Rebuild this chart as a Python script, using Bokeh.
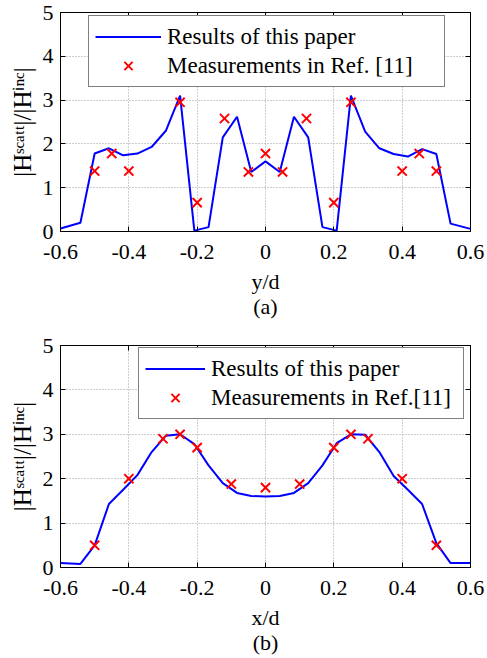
from bokeh.plotting import figure
from bokeh.models import Range1d, FixedTicker, LinearAxis
from bokeh.layouts import column
from bokeh.embed import file_html
from bokeh.resources import INLINE

# ---------------- data ----------------
x_line = [-0.6, -0.5417, -0.5, -0.4583, -0.4167, -0.375, -0.3333, -0.2917, -0.25, -0.2083,
          -0.1667, -0.125, -0.0833, -0.0417, 0.0, 0.0417, 0.0833, 0.125, 0.1667, 0.2083,
          0.25, 0.2917, 0.3333, 0.375, 0.4167, 0.4583, 0.5, 0.5417, 0.6]
y_line_a = [0.07, 0.2, 1.78, 1.9, 1.74, 1.78, 1.93, 2.3, 3.1, 0.02,
            0.1, 2.15, 2.62, 1.36, 1.6, 1.36, 2.62, 2.15, 0.1, 0.02,
            3.1, 2.28, 1.9, 1.77, 1.71, 1.88, 1.77, 0.18, 0.06]
x_meas_a = [-0.5, -0.45, -0.4, -0.25, -0.2, -0.12, -0.05, 0.0, 0.05, 0.12, 0.2, 0.25, 0.4, 0.45, 0.5]
y_meas_a = [1.38, 1.78, 1.38, 2.95, 0.66, 2.58, 1.36, 1.78, 1.36, 2.58, 0.66, 2.95, 1.38, 1.78, 1.38]

y_line_b = [0.1, 0.08, 0.5, 1.43, 1.75, 2.08, 2.6, 2.97, 3.0, 2.78,
            2.3, 1.9, 1.68, 1.61, 1.6, 1.61, 1.68, 1.9, 2.3, 2.8,
            3.0, 2.99, 2.6, 2.06, 1.75, 1.43, 0.55, 0.1, 0.1]
x_meas_b = [-0.5, -0.4, -0.3, -0.25, -0.2, -0.1, 0.0, 0.1, 0.2, 0.25, 0.3, 0.4, 0.5]
y_meas_b = [0.5, 2.0, 2.9, 3.0, 2.7, 1.88, 1.8, 1.88, 2.7, 3.0, 2.9, 2.0, 0.5]

x_ticks = [-0.6, -0.4, -0.2, 0.0, 0.2, 0.4, 0.6]
x_tick_labels = ["-0.6", "-0.4", "-0.2", "0", "0.2", "0.4", "0.6"]
y_ticks = [0, 1, 2, 3, 4, 5]

legend_line = "Results of this paper"
legend_meas_a = "Measurements in Ref. [11]"
legend_meas_b = "Measurements in Ref.[11]"
y_label = "|H\u02e2\u1d9c\u1d43\u1d57\u1d57|/|H\u2071\u207f\u1d9c|"

FONT = "Liberation Serif"


def make_plot(height, top, bottom, xlabel, label_standoff, leg_meas, leg_loc, glyph_w,
              label_w, yl, xm, ymm):
    p = figure(width=487, height=height, output_backend="svg", toolbar_location=None,
               x_range=Range1d(-0.6, 0.6), y_range=Range1d(0, 5),
               min_border_left=60, min_border_right=17, min_border_top=top,
               min_border_bottom=bottom, background_fill_color="white",
               border_fill_color="white")
    p.outline_line_color = "black"
    p.outline_line_width = 1

    for ax in (p.xaxis[0], p.yaxis[0]):
        ax.major_tick_in = 5
        ax.major_tick_out = 0
        ax.minor_tick_line_color = None
        ax.axis_line_color = "black"
        ax.major_tick_line_color = "black"
        ax.major_label_text_font = FONT
        ax.major_label_text_font_size = "22px"
        ax.major_label_text_color = "black"
        ax.axis_label_text_font = FONT
        ax.axis_label_text_font_style = "normal"
        ax.axis_label_text_color = "black"
    p.xaxis.ticker = FixedTicker(ticks=x_ticks)
    p.xaxis.major_label_overrides = {t: l for t, l in zip(x_ticks, x_tick_labels)}
    p.xaxis.major_label_standoff = 13
    p.xaxis.axis_label = xlabel
    p.xaxis.axis_label_text_font_size = "22px"
    p.xaxis.axis_label_text_line_height = 1.03
    p.xaxis.axis_label_standoff = label_standoff

    p.yaxis.ticker = FixedTicker(ticks=y_ticks)
    p.yaxis.major_label_standoff = 7
    p.yaxis.axis_label = y_label
    p.yaxis.axis_label_text_font_size = "25px"
    p.yaxis.axis_label_standoff = 4

    # box ticks on top and right (no labels)
    top_ax = LinearAxis(ticker=FixedTicker(ticks=x_ticks), major_label_text_color=None,
                        major_label_text_font_size="2px",
                        major_tick_in=5, major_tick_out=0, minor_tick_line_color=None,
                        major_label_standoff=0, axis_line_color="black")
    right_ax = LinearAxis(ticker=FixedTicker(ticks=y_ticks), major_label_text_color=None,
                          major_label_text_font_size="2px",
                          major_tick_in=5, major_tick_out=0, minor_tick_line_color=None,
                          major_label_standoff=0, axis_line_color="black")
    p.add_layout(top_ax, "above")
    p.add_layout(right_ax, "right")

    p.xgrid.ticker = FixedTicker(ticks=x_ticks)
    p.ygrid.ticker = FixedTicker(ticks=y_ticks)
    for g in (p.xgrid[0], p.ygrid[0]):
        g.grid_line_color = "#9a9a9a"
        g.grid_line_dash = "1 2"
        g.grid_line_width = 1

    p.line(x_line, yl, line_color="#0000ff", line_width=2, legend_label=legend_line)
    p.scatter(xm, ymm, marker="x", size=13, line_color="#ff0000", line_width=2,
              legend_label=leg_meas)

    lg = p.legend[0]
    lg.location = leg_loc
    lg.label_text_font = FONT
    lg.label_text_font_size = "23px"
    lg.label_text_color = "black"
    lg.glyph_width = glyph_w
    lg.glyph_height = 29
    lg.label_height = 29
    lg.label_width = label_w
    lg.label_standoff = 6
    lg.padding = 6
    lg.spacing = 0
    lg.margin = 0
    lg.border_line_color = "black"
    lg.border_line_width = 1
    lg.background_fill_alpha = 1
    return p


pa = make_plot(329, 12, 98, "y/d\n(a)", 7, legend_meas_a, (28, 144), 66, 271,
               y_line_a, x_meas_a, y_meas_a)
pb = make_plot(329, 16, 90, "x/d\n(b)", 7, legend_meas_b, (78, 148), 60, 246,
               y_line_b, x_meas_b, y_meas_b)

layout = column(pa, pb, spacing=0)
open("out.html", "w").write(file_html(layout, INLINE))
